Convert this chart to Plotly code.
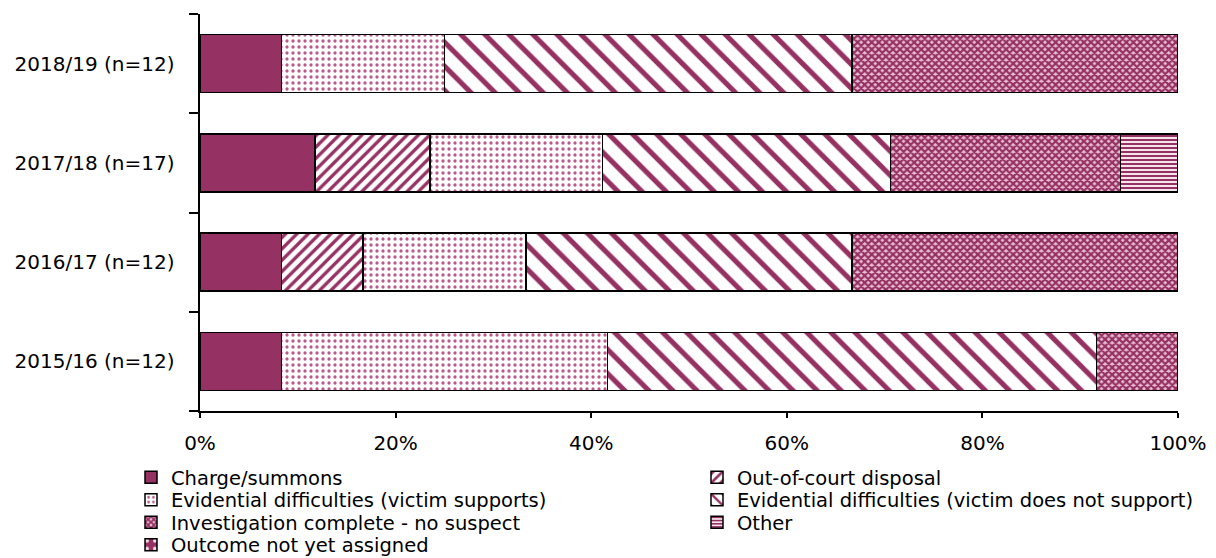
import plotly.graph_objects as go

# Financial years (bottom to top) with number of cases
years = ["2015/16 (n=12)", "2016/17 (n=12)", "2017/18 (n=17)", "2018/19 (n=12)"]

# Case counts per outcome, in the same order as years
charge_summons = [1, 1, 2, 1]
out_of_court = [0, 1, 2, 0]
evid_victim_supports = [4, 2, 3, 2]
evid_victim_not_support = [6, 4, 5, 5]
investigation_complete = [1, 4, 4, 4]
other = [0, 0, 1, 0]
not_yet_assigned = [0, 0, 0, 0]

x_ticks = [0, 20, 40, 60, 80, 100]
x_tick_labels = ["0%", "20%", "40%", "60%", "80%", "100%"]

PLUM = "#953163"
FONT = "DejaVu Sans"

W, H = 1216, 558
M_L, M_R, M_T, M_B = 200, 38, 14, 147
PLOT_W = W - M_L - M_R
PLOT_H = H - M_T - M_B


def px_to_paper(px, py):
    return (px - M_L) / PLOT_W, (H - M_B - py) / PLOT_H


def pat(shape, fg, bg, size, solidity):
    return dict(shape=shape, fgcolor=fg, bgcolor=bg, size=size,
                solidity=solidity, fgopacity=1, fillmode="overlay")


series = [
    ("Charge/summons", charge_summons, dict(color=PLUM)),
    ("Out-of-court disposal", out_of_court,
     dict(color="white", pattern=pat("/", PLUM, "white", 8, 0.42))),
    ("Evidential difficulties (victim supports)", evid_victim_supports,
     dict(color="white", pattern=pat(".", "#bb5a8a", "white", 6, 0.24))),
    ("Evidential difficulties (victim does not support)", evid_victim_not_support,
     dict(color="white", pattern=pat("\\", PLUM, "white", 17, 0.3))),
    ("Investigation complete - no suspect", investigation_complete,
     dict(color="#e9bdd2", pattern=pat("x", PLUM, "#e9bdd2", 5, 0.68))),
    ("Other", other,
     dict(color="white", pattern=pat("-", PLUM, "#f6e4ed", 4, 0.5))),
    ("Outcome not yet assigned", not_yet_assigned,
     dict(color=PLUM, pattern=pat(".", "#f3dde8", PLUM, 10, 0.2))),
]

# Legend laid out as two columns, one single-entry legend per outcome
legend_cols = [131, 697]
legend_rows = [477.5, 500, 522.5, 545]

fig = go.Figure()
layout_legends = {}
for i, (name, values, marker) in enumerate(series):
    marker = dict(marker)
    marker["line"] = dict(color="black", width=1.5)
    legend_id = "legend" if i == 0 else f"legend{i + 1}"
    fig.add_trace(go.Bar(
        y=years, x=values, name=name, orientation="h", marker=marker,
        legend=legend_id,
    ))
    lx, ly = px_to_paper(legend_cols[i % 2], legend_rows[i // 2])
    layout_legends[legend_id] = dict(
        x=lx, xanchor="left", y=ly, yanchor="middle",
        bgcolor="rgba(0,0,0,0)", borderwidth=0,
        font=dict(family=FONT, size=19.5, color="black"),
        itemwidth=30,
    )

fig.update_layout(
    width=W, height=H,
    barmode="stack", barnorm="percent", bargap=0.415,
    plot_bgcolor="white", paper_bgcolor="white",
    margin=dict(l=M_L, r=M_R, t=M_T, b=M_B, autoexpand=False),
    font=dict(family=FONT, size=20, color="black"),
    showlegend=True,
    xaxis=dict(
        range=[0, 100], tickvals=x_ticks, ticktext=x_tick_labels,
        showgrid=False, zeroline=False, showline=True, linecolor="black", linewidth=1.5,
        ticks="outside", ticklen=5, tickcolor="black", tickwidth=1.5,
        ticklabelstandoff=8,
        tickfont=dict(family=FONT, size=20),
    ),
    yaxis=dict(
        categoryorder="array", categoryarray=years,
        showgrid=False, zeroline=False, showline=True, linecolor="black", linewidth=1.5,
        ticks="outside", tickson="boundaries", ticklen=9, tickcolor="black", tickwidth=1.5,
        ticklabelstandoff=7,
        tickfont=dict(family=FONT, size=20), ticksuffix="  ",
    ),
    **layout_legends,
)

fig.write_html("out.html")
